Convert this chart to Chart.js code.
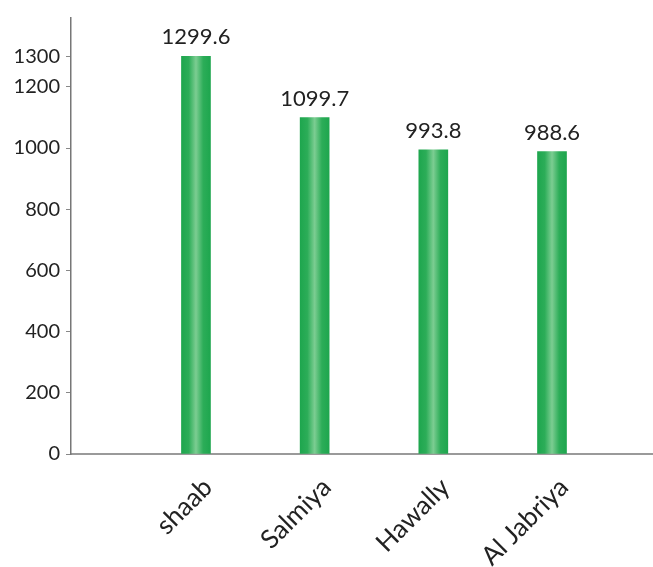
<!DOCTYPE html>
<html>
<head>
<meta charset="utf-8">
<script src="https://cdn.jsdelivr.net/npm/chart.js@4/dist/chart.umd.min.js"></script>
<style>
  html, body { margin: 0; padding: 0; background: #fff; }
  #wrap { width: 653px; height: 567px; position: relative; }
</style>
</head>
<body>
<div id="wrap"><canvas id="c"></canvas></div>
<script>
// Areas and their values
const areas = ['shaab', 'Salmiya', 'Hawally', 'Al Jabriya'];
const values = [1299.6, 1099.7, 993.8, 988.6];
const valueLabels = ['1299.6', '1099.7', '993.8', '988.6'];
const yTicks = [0, 200, 400, 600, 800, 1000, 1200, 1300];

const FONT = 'Lato, "Open Sans", sans-serif';

// Bars sit at positions 1..n on a linear x axis
const points = values.map((v, i) => ({ x: i + 1, y: v }));

// Cylinder-like shading: dark edges, light centre
const barShade = {
  id: 'barShade',
  beforeDatasetsDraw(chart) {
    const ctx = chart.ctx;
    chart.getDatasetMeta(0).data.forEach(el => {
      const half = el.width / 2;
      const g = ctx.createLinearGradient(el.x - half, 0, el.x + half, 0);
      g.addColorStop(0, '#1ea64e');
      g.addColorStop(0.25, '#2cad58');
      g.addColorStop(0.5, '#7ccd92');
      g.addColorStop(0.75, '#2cad58');
      g.addColorStop(1, '#1ea64e');
      el.options.backgroundColor = g;
    });
  }
};

// Value text above each bar
const valueText = {
  id: 'valueText',
  afterDatasetsDraw(chart) {
    const ctx = chart.ctx;
    ctx.save();
    ctx.font = '22px ' + FONT;
    ctx.fillStyle = '#222';
    ctx.textAlign = 'center';
    ctx.textBaseline = 'bottom';
    chart.getDatasetMeta(0).data.forEach((el, i) => {
      ctx.fillText(valueLabels[i], el.x, el.y - 8);
    });
    ctx.restore();
  }
};

new Chart(document.getElementById('c'), {
  type: 'bar',
  data: {
    datasets: [{
      data: points,
      // scriptable so that every bar keeps its own options object
      backgroundColor: () => '#22a650',
      barThickness: 29,
      borderWidth: 0
    }]
  },
  options: {
    responsive: true,
    maintainAspectRatio: false,
    animation: false,
    layout: { padding: { top: 12, right: 0, left: 0, bottom: 0 } },
    plugins: { legend: { display: false }, tooltip: { enabled: false } },
    scales: {
      x: {
        type: 'linear',
        offset: false,
        min: -0.053,
        max: -0.053 + 4.904,
        afterBuildTicks(scale) {
          scale.ticks = areas.map((_, i) => ({ value: i + 1 }));
        },
        afterFit(scale) { scale.height = 113; },
        grid: { display: false, drawTicks: false },
        border: { display: true, color: '#9a9a9a', width: 2 },
        ticks: {
          autoSkip: false,
          maxRotation: 45,
          minRotation: 45,
          padding: 18,
          labelOffset: 12,
          color: '#222',
          font: { family: FONT, size: 26 },
          callback: (v) => areas[v - 1]
        }
      },
      y: {
        min: 0,
        max: 1425,
        afterBuildTicks(scale) {
          scale.ticks = yTicks.map(v => ({ value: v }));
        },
        afterFit(scale) { scale.width = 71; },
        grid: {
          drawOnChartArea: false,
          drawTicks: true,
          tickLength: 5,
          color: '#888'
        },
        border: { display: true, color: '#777', width: 1.5 },
        ticks: {
          padding: 6,
          color: '#222',
          font: { family: FONT, size: 20 },
          callback: (v) => String(v)
        }
      }
    }
  },
  plugins: [barShade, valueText]
});
</script>
</body>
</html>
